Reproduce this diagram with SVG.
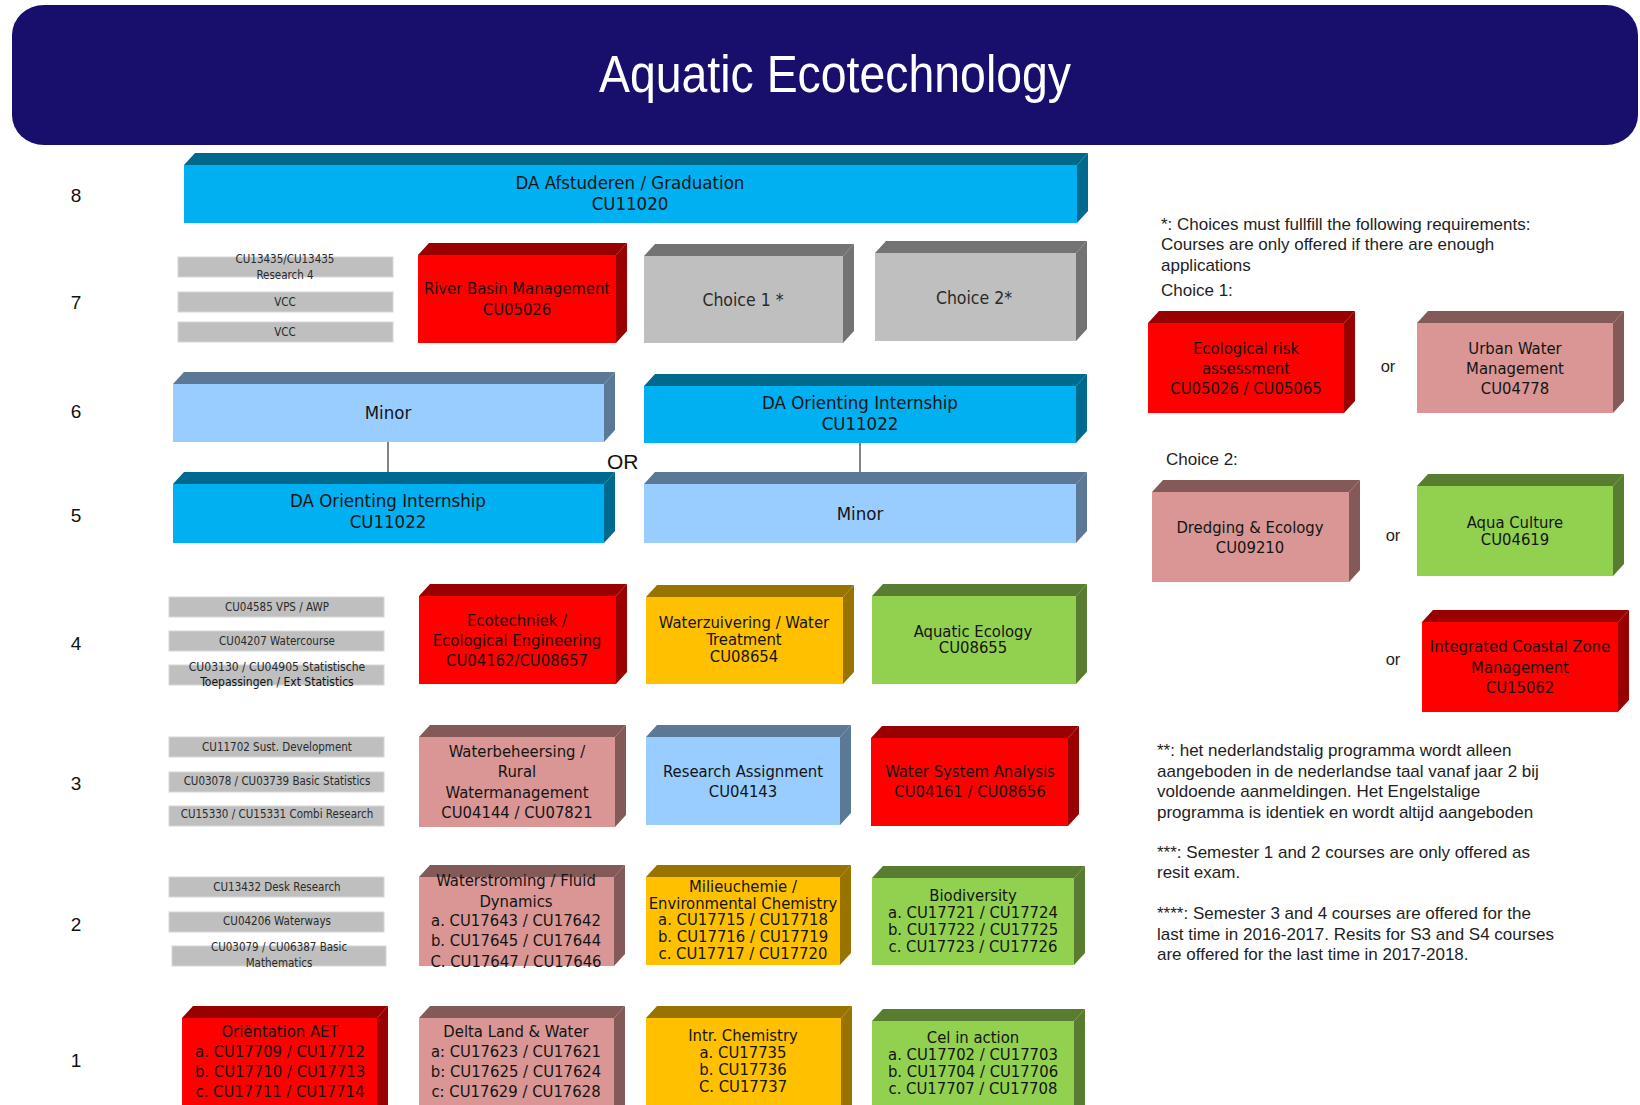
<svg xmlns="http://www.w3.org/2000/svg" width="1640" height="1105" viewBox="0 0 1640 1105">
<defs>
<style>
.bt{font-family:"DejaVu Sans Condensed","Liberation Sans",Arial,sans-serif;font-size:16.5px;fill:#141414;text-anchor:middle}
.big{font-size:18.5px}
.ch{font-size:17.5px;fill:#2a2a2a}
.gt{font-family:"DejaVu Sans Condensed","Liberation Sans",Arial,sans-serif;font-size:11.5px;fill:#2a2a2a;text-anchor:middle}
.note{font-family:"Liberation Sans",Arial,sans-serif;font-size:17px;fill:#1e1e1e}
.num{font-family:"Liberation Sans",Arial,sans-serif;font-size:19px;fill:#111;text-anchor:middle}
.bar{fill:#BFBFBF;stroke:#d6d6d6;stroke-width:1}
.cyan .f{fill:#00B0F0}.cyan .s{fill:#006A8E}
.lblue .f{fill:#99CCFF}.lblue .s{fill:#5B7996}
.gray .f{fill:#BFBFBF}.gray .s{fill:#737373}
.red .f{fill:#FF0000}.red .s{fill:#990000}
.rose .f{fill:#D99694}.rose .s{fill:#845A58}
.yellow .f{fill:#FFC000}.yellow .s{fill:#997300}
.green .f{fill:#92D050}.green .s{fill:#587D30}
.conn{stroke:#404040;stroke-width:1.3;fill:none}
</style>
</defs>
<rect width="1640" height="1105" fill="#ffffff"/>

<g id="header">
<rect x="12" y="5" width="1626" height="140" rx="32" ry="30" fill="#180E6C"/>
<text x="835" y="92" font-family="Liberation Sans, Arial, sans-serif" font-size="51" fill="#ffffff" text-anchor="middle" textLength="472" lengthAdjust="spacingAndGlyphs">Aquatic Ecotechnology</text>
</g>

<g id="row-labels">
<text class="num" x="76" y="202">8</text>
<text class="num" x="76" y="309">7</text>
<text class="num" x="76" y="418">6</text>
<text class="num" x="76" y="522">5</text>
<text class="num" x="76" y="650">4</text>
<text class="num" x="76" y="790">3</text>
<text class="num" x="76" y="931">2</text>
<text class="num" x="76" y="1067">1</text>
</g>

<g id="connectors">
<line class="conn" x1="388" y1="442" x2="388" y2="472"/>
<line class="conn" x1="860" y1="443" x2="860" y2="472"/>
</g>

<g id="or-label">
<text x="607" y="469" font-family="Liberation Sans, Arial, sans-serif" font-size="21" fill="#111">OR</text>
</g>

<g id="da-afstuderen" class="cyan">
<polygon class="s" points="184,165 195,153 1088,153 1077,165"/>
<polygon class="s" points="1077,165 1088,153 1088,211 1077,223"/>
<rect class="f" x="184" y="165" width="893" height="58"/>
<text class="bt big" x="630" y="189">DA Afstuderen / Graduation</text>
<text class="bt big" x="630" y="210">CU11020</text>
</g>

<g id="bars-row7">
<rect class="bar" x="178" y="257" width="215" height="20"/>
<rect class="bar" x="178" y="292" width="215" height="20"/>
<rect class="bar" x="178" y="322" width="215" height="20"/>
<text class="gt" x="285" y="263">CU13435/CU13435</text>
<text class="gt" x="285" y="279">Research 4</text>
<text class="gt" x="285" y="306">VCC</text>
<text class="gt" x="285" y="336">VCC</text>
</g>

<g id="river-basin" class="red">
<polygon class="s" points="418,255 429,243 627,243 616,255"/>
<polygon class="s" points="616,255 627,243 627,331 616,343"/>
<rect class="f" x="418" y="255" width="198" height="88"/>
<text class="bt" x="517" y="294">River Basin Management</text>
<text class="bt" x="517" y="315">CU05026</text>
</g>

<g id="choice1" class="gray">
<polygon class="s" points="644,256 655,244 854,244 843,256"/>
<polygon class="s" points="843,256 854,244 854,331 843,343"/>
<rect class="f" x="644" y="256" width="199" height="87"/>
<text class="bt ch" x="743" y="306">Choice 1 *</text>
</g>

<g id="choice2" class="gray">
<polygon class="s" points="875,253 886,241 1087,241 1076,253"/>
<polygon class="s" points="1076,253 1087,241 1087,329 1076,341"/>
<rect class="f" x="875" y="253" width="201" height="88"/>
<text class="bt ch" x="974" y="304">Choice 2*</text>
</g>

<g id="minor-left" class="lblue">
<polygon class="s" points="173,384 184,372 615,372 604,384"/>
<polygon class="s" points="604,384 615,372 615,430 604,442"/>
<rect class="f" x="173" y="384" width="431" height="58"/>
<text class="bt big" x="388" y="419">Minor</text>
</g>

<g id="da-orienting-right" class="cyan">
<polygon class="s" points="644,386 655,374 1087,374 1076,386"/>
<polygon class="s" points="1076,386 1087,374 1087,431 1076,443"/>
<rect class="f" x="644" y="386" width="432" height="57"/>
<text class="bt big" x="860" y="409">DA Orienting Internship</text>
<text class="bt big" x="860" y="430">CU11022</text>
</g>

<g id="da-orienting-left" class="cyan">
<polygon class="s" points="173,484 184,472 615,472 604,484"/>
<polygon class="s" points="604,484 615,472 615,531 604,543"/>
<rect class="f" x="173" y="484" width="431" height="59"/>
<text class="bt big" x="388" y="507">DA Orienting Internship</text>
<text class="bt big" x="388" y="528">CU11022</text>
</g>

<g id="minor-right" class="lblue">
<polygon class="s" points="644,484 655,472 1087,472 1076,484"/>
<polygon class="s" points="1076,484 1087,472 1087,531 1076,543"/>
<rect class="f" x="644" y="484" width="432" height="59"/>
<text class="bt big" x="860" y="520">Minor</text>
</g>

<g id="bars-row4">
<rect class="bar" x="169" y="597" width="215" height="20"/>
<rect class="bar" x="169" y="631" width="215" height="20"/>
<rect class="bar" x="169" y="665" width="215" height="20"/>
<text class="gt" x="277" y="611">CU04585 VPS / AWP</text>
<text class="gt" x="277" y="645">CU04207 Watercourse</text>
<text class="gt" x="277" y="671" style="font-size:12px">CU03130 / CU04905 Statistische</text>
<text class="gt" x="277" y="686" style="font-size:12px;fill:#111">Toepassingen / Ext Statistics</text>
</g>

<g id="ecotechniek" class="red">
<polygon class="s" points="419,596 430,584 627,584 616,596"/>
<polygon class="s" points="616,596 627,584 627,672 616,684"/>
<rect class="f" x="419" y="596" width="197" height="88"/>
<text class="bt" x="517" y="626">Ecotechniek /</text>
<text class="bt" x="517" y="646">Ecological Engineering</text>
<text class="bt" x="517" y="666">CU04162/CU08657</text>
</g>

<g id="waterzuivering" class="yellow">
<polygon class="s" points="646,597 657,585 854,585 843,597"/>
<polygon class="s" points="843,597 854,585 854,672 843,684"/>
<rect class="f" x="646" y="597" width="197" height="87"/>
<text class="bt" x="744" y="628">Waterzuivering / Water</text>
<text class="bt" x="744" y="645">Treatment</text>
<text class="bt" x="744" y="662">CU08654</text>
</g>

<g id="aquatic-ecology" class="green">
<polygon class="s" points="872,596 883,584 1087,584 1076,596"/>
<polygon class="s" points="1076,596 1087,584 1087,672 1076,684"/>
<rect class="f" x="872" y="596" width="204" height="88"/>
<text class="bt" x="973" y="637">Aquatic Ecology</text>
<text class="bt" x="973" y="653">CU08655</text>
</g>

<g id="bars-row3">
<rect class="bar" x="169" y="737" width="215" height="20"/>
<rect class="bar" x="169" y="772" width="215" height="20"/>
<rect class="bar" x="169" y="806" width="215" height="20"/>
<text class="gt" x="277" y="751">CU11702 Sust. Development</text>
<text class="gt" x="277" y="785">CU03078 / CU03739 Basic Statistics</text>
<text class="gt" x="277" y="818">CU15330 / CU15331 Combi Research</text>
</g>

<g id="waterbeheersing" class="rose">
<polygon class="s" points="419,737 430,725 626,725 615,737"/>
<polygon class="s" points="615,737 626,725 626,815 615,827"/>
<rect class="f" x="419" y="737" width="196" height="90"/>
<text class="bt" x="517" y="757">Waterbeheersing /</text>
<text class="bt" x="517" y="777">Rural</text>
<text class="bt" x="517" y="798">Watermanagement</text>
<text class="bt" x="517" y="818">CU04144 / CU07821</text>
</g>

<g id="research-assignment" class="lblue">
<polygon class="s" points="646,737 657,725 851,725 840,737"/>
<polygon class="s" points="840,737 851,725 851,813 840,825"/>
<rect class="f" x="646" y="737" width="194" height="88"/>
<text class="bt" x="743" y="777">Research Assignment</text>
<text class="bt" x="743" y="797">CU04143</text>
</g>

<g id="water-system-analysis" class="red">
<polygon class="s" points="871,738 882,726 1079,726 1068,738"/>
<polygon class="s" points="1068,738 1079,726 1079,814 1068,826"/>
<rect class="f" x="871" y="738" width="197" height="88"/>
<text class="bt" x="970" y="777">Water System Analysis</text>
<text class="bt" x="970" y="797">CU04161 / CU08656</text>
</g>

<g id="bars-row2">
<rect class="bar" x="169" y="877" width="215" height="20"/>
<rect class="bar" x="169" y="912" width="215" height="20"/>
<rect class="bar" x="172" y="946" width="214" height="20"/>
<text class="gt" x="277" y="891">CU13432 Desk Research</text>
<text class="gt" x="277" y="925">CU04206 Waterways</text>
<text class="gt" x="279" y="951">CU03079 / CU06387 Basic</text>
<text class="gt" x="279" y="967">Mathematics</text>
</g>

<g id="waterstroming" class="rose">
<polygon class="s" points="419,877 430,865 625,865 614,877"/>
<polygon class="s" points="614,877 625,865 625,954 614,966"/>
<rect class="f" x="419" y="877" width="195" height="89"/>
<text class="bt" x="516" y="886">Waterstroming / Fluid</text>
<text class="bt" x="516" y="907">Dynamics</text>
<text class="bt" x="516" y="926">a. CU17643 / CU17642</text>
<text class="bt" x="516" y="946">b. CU17645 / CU17644</text>
<text class="bt" x="516" y="967">C. CU17647 / CU17646</text>
</g>

<g id="milieuchemie" class="yellow">
<polygon class="s" points="646,877 657,865 851,865 840,877"/>
<polygon class="s" points="840,877 851,865 851,953 840,965"/>
<rect class="f" x="646" y="877" width="194" height="88"/>
<text class="bt" x="743" y="892">Milieuchemie /</text>
<text class="bt" x="743" y="909">Environmental Chemistry</text>
<text class="bt" x="743" y="925">a. CU17715 / CU17718</text>
<text class="bt" x="743" y="942">b. CU17716 / CU17719</text>
<text class="bt" x="743" y="959">c. CU17717 / CU17720</text>
</g>

<g id="biodiversity" class="green">
<polygon class="s" points="872,878 883,866 1085,866 1074,878"/>
<polygon class="s" points="1074,878 1085,866 1085,953 1074,965"/>
<rect class="f" x="872" y="878" width="202" height="87"/>
<text class="bt" x="973" y="901">Biodiversity</text>
<text class="bt" x="973" y="918">a. CU17721 / CU17724</text>
<text class="bt" x="973" y="935">b. CU17722 / CU17725</text>
<text class="bt" x="973" y="952">c. CU17723 / CU17726</text>
</g>

<g id="orientation-aet" class="red">
<polygon class="s" points="182,1018 193,1006 388,1006 377,1018"/>
<polygon class="s" points="377,1018 388,1006 388,1106 377,1118"/>
<rect class="f" x="182" y="1018" width="195" height="100"/>
<text class="bt" x="280" y="1037">Oriëntation AET</text>
<text class="bt" x="280" y="1057">a. CU17709 / CU17712</text>
<text class="bt" x="280" y="1077">b. CU17710 / CU17713</text>
<text class="bt" x="280" y="1097">c. CU17711 / CU17714</text>
</g>

<g id="delta-land-water" class="rose">
<polygon class="s" points="419,1018 430,1006 625,1006 614,1018"/>
<polygon class="s" points="614,1018 625,1006 625,1106 614,1118"/>
<rect class="f" x="419" y="1018" width="195" height="100"/>
<text class="bt" x="516" y="1037">Delta Land &amp; Water</text>
<text class="bt" x="516" y="1057">a: CU17623 / CU17621</text>
<text class="bt" x="516" y="1077">b: CU17625 / CU17624</text>
<text class="bt" x="516" y="1097">c: CU17629 / CU17628</text>
</g>

<g id="intr-chemistry" class="yellow">
<polygon class="s" points="646,1018 657,1006 852,1006 841,1018"/>
<polygon class="s" points="841,1018 852,1006 852,1106 841,1118"/>
<rect class="f" x="646" y="1018" width="195" height="100"/>
<text class="bt" x="743" y="1041">Intr. Chemistry</text>
<text class="bt" x="743" y="1058">a. CU17735</text>
<text class="bt" x="743" y="1075">b. CU17736</text>
<text class="bt" x="743" y="1092">C. CU17737</text>
</g>

<g id="cel-in-action" class="green">
<polygon class="s" points="872,1021 883,1009 1085,1009 1074,1021"/>
<polygon class="s" points="1074,1021 1085,1009 1085,1109 1074,1121"/>
<rect class="f" x="872" y="1021" width="202" height="100"/>
<text class="bt" x="973" y="1043">Cel in action</text>
<text class="bt" x="973" y="1060">a. CU17702 / CU17703</text>
<text class="bt" x="973" y="1077">b. CU17704 / CU17706</text>
<text class="bt" x="973" y="1094">c. CU17707 / CU17708</text>
</g>

<g id="notes-choice1">
<text class="note" x="1161" y="230">*: Choices must fullfill the following requirements:</text>
<text class="note" x="1161" y="250">Courses are only offered if there are enough</text>
<text class="note" x="1161" y="271">applications</text>
<text class="note" x="1161" y="296">Choice 1:</text>
</g>

<g id="ecological-risk" class="red">
<polygon class="s" points="1148,323 1159,311 1355,311 1344,323"/>
<polygon class="s" points="1344,323 1355,311 1355,401 1344,413"/>
<rect class="f" x="1148" y="323" width="196" height="90"/>
<text class="bt" x="1246" y="354">Ecological risk</text>
<text class="bt" x="1246" y="374">assessment</text>
<text class="bt" x="1246" y="394">CU05026 / CU05065</text>
</g>

<g id="or1"><text class="note" x="1388" y="372" text-anchor="middle" style="font-size:16.5px">or</text></g>

<g id="urban-water" class="rose">
<polygon class="s" points="1417,323 1428,311 1624,311 1613,323"/>
<polygon class="s" points="1613,323 1624,311 1624,401 1613,413"/>
<rect class="f" x="1417" y="323" width="196" height="90"/>
<text class="bt" x="1515" y="354">Urban Water</text>
<text class="bt" x="1515" y="374">Management</text>
<text class="bt" x="1515" y="394">CU04778</text>
</g>

<g id="notes-choice2">
<text class="note" x="1166" y="465">Choice 2:</text>
</g>

<g id="dredging" class="rose">
<polygon class="s" points="1152,492 1163,480 1360,480 1349,492"/>
<polygon class="s" points="1349,492 1360,480 1360,570 1349,582"/>
<rect class="f" x="1152" y="492" width="197" height="90"/>
<text class="bt" x="1250" y="533">Dredging &amp; Ecology</text>
<text class="bt" x="1250" y="553">CU09210</text>
</g>

<g id="or2"><text class="note" x="1393" y="541" text-anchor="middle" style="font-size:16.5px">or</text></g>

<g id="aqua-culture" class="green">
<polygon class="s" points="1417,486 1428,474 1624,474 1613,486"/>
<polygon class="s" points="1613,486 1624,474 1624,564 1613,576"/>
<rect class="f" x="1417" y="486" width="196" height="90"/>
<text class="bt" x="1515" y="528">Aqua Culture</text>
<text class="bt" x="1515" y="545">CU04619</text>
</g>

<g id="or3"><text class="note" x="1393" y="665" text-anchor="middle" style="font-size:16.5px">or</text></g>

<g id="iczm" class="red">
<polygon class="s" points="1422,622 1433,610 1629,610 1618,622"/>
<polygon class="s" points="1618,622 1629,610 1629,700 1618,712"/>
<rect class="f" x="1422" y="622" width="196" height="90"/>
<text class="bt" x="1520" y="652">Integrated Coastal Zone</text>
<text class="bt" x="1520" y="673">Management</text>
<text class="bt" x="1520" y="693">CU15062</text>
</g>

<g id="notes-footer">
<text class="note" x="1157" y="756">**: het nederlandstalig programma wordt alleen</text>
<text class="note" x="1157" y="777">aangeboden in de nederlandse taal vanaf jaar 2 bij</text>
<text class="note" x="1157" y="797">voldoende aanmeldingen. Het Engelstalige</text>
<text class="note" x="1157" y="818">programma is identiek en wordt altijd aangeboden</text>
<text class="note" x="1157" y="858">***: Semester 1 and 2 courses are only offered as</text>
<text class="note" x="1157" y="878">resit exam.</text>
<text class="note" x="1157" y="919">****: Semester 3 and 4 courses are offered for the</text>
<text class="note" x="1157" y="940">last time in 2016-2017. Resits for S3 and S4 courses</text>
<text class="note" x="1157" y="960">are offered for the last time in 2017-2018.</text>
</g>
</svg>
